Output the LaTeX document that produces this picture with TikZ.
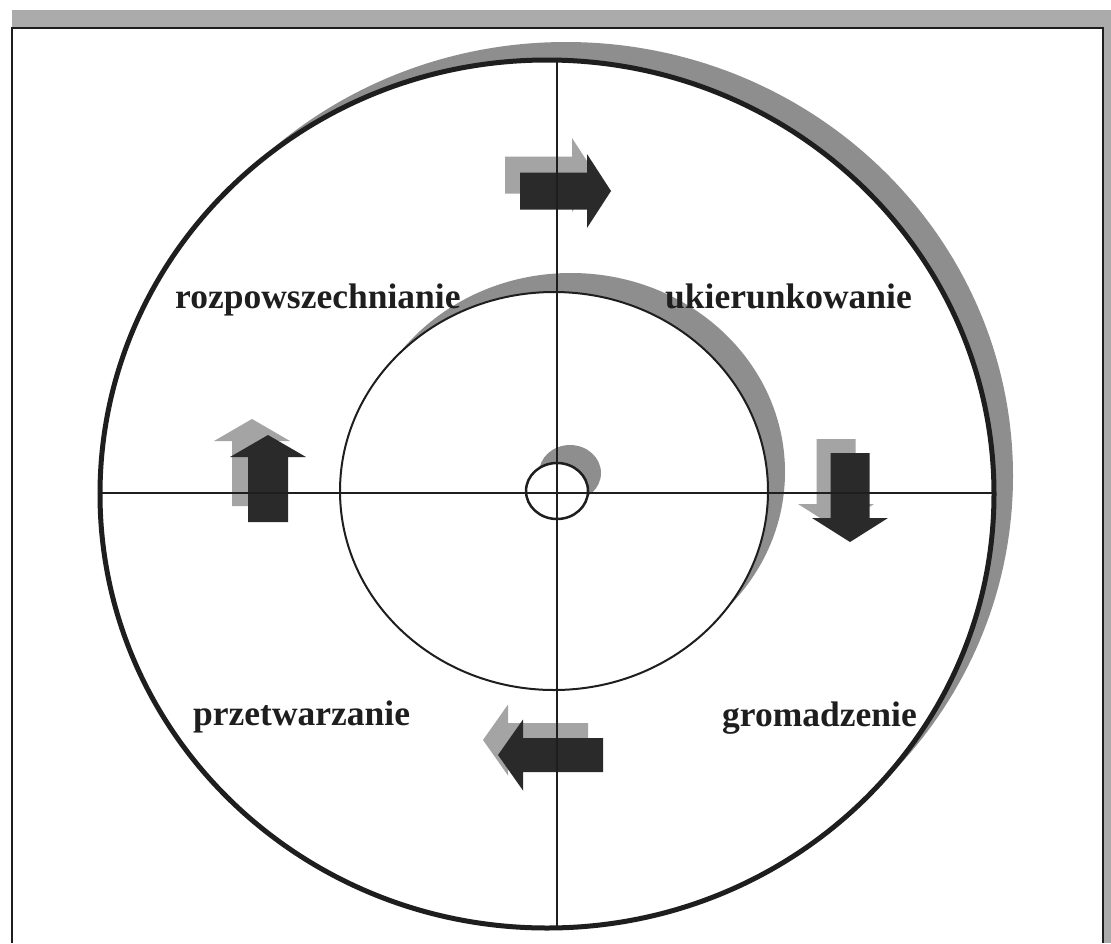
\documentclass[tikz,border=0pt]{standalone}
\usepackage{fontspec}
\setmainfont{Liberation Serif}
\usetikzlibrary{shapes.geometric}
\definecolor{ink}{HTML}{1E1E1E}
\definecolor{darkfill}{HTML}{2A2A2A}
\definecolor{shadowgray}{HTML}{8E8E8E}
\definecolor{arrowgray}{HTML}{A4A4A4}
\definecolor{bandgray}{HTML}{ABABAB}
\newcommand\fatarrow[7]{%
  \fill[#7,shift={#1},rotate=#2] (0,-#4) -- (#3,-#4) -- (#3,-#6) -- ({#3+#5},0) -- (#3,#6) -- (#3,#4) -- (0,#4) -- cycle;}
\tikzset{
  ring/.style={ellipse, draw=ink, fill=white, inner sep=0pt, outer sep=0pt},
  label/.style={font=\fontsize{35.5}{40}\selectfont\bfseries, text=ink, inner sep=0pt, anchor=base west},
  axis/.style={draw=ink, line width=2pt},
}
\begin{document}
\begin{tikzpicture}[x=1pt,y=-1pt]
\useasboundingbox (0,0) rectangle (1111,943);
\fill[white] (0,0) rectangle (1111,943);
% frame with its shadow band
\fill[bandgray] (12,10) rectangle (1111,28);
\fill[bandgray] (1103,10) rectangle (1111,943);
\draw[ink, line width=1.5pt] (12,943) -- (12,28) -- (1103,28) -- (1103,943);
% big circle
\fill[shadowgray] (566,476) ellipse [x radius=447pt, y radius=434pt];
\node[ring, line width=5pt, minimum width=894pt, minimum height=868pt] (big) at (547,494) {};
% inner circle
\fill[shadowgray] (571,472) ellipse [x radius=214pt, y radius=199pt];
\node[ring, line width=2pt, minimum width=428pt, minimum height=398pt] (inner) at (554,491) {};
% small circle
\fill[shadowgray] (570,473) ellipse [x radius=31pt, y radius=28pt];
\node[ring, line width=2.5pt, minimum width=62pt, minimum height=56pt] (small) at (557,491) {};
% arrows (gray shadow first, then dark)
\fatarrow{(505,175)}{0}{67}{18.5}{24}{37}{arrowgray}
\fatarrow{(520,191)}{0}{67}{18.5}{24}{37}{darkfill}
\fatarrow{(252,506)}{90}{65}{20}{22}{38}{arrowgray}
\fatarrow{(268,522)}{90}{65}{20}{22}{38}{darkfill}
\fatarrow{(836,439)}{-90}{65}{19.5}{24}{38}{arrowgray}
\fatarrow{(850,453)}{-90}{65}{19.5}{24}{38}{darkfill}
\fatarrow{(588,740)}{180}{80}{17}{25}{35.5}{arrowgray}
\fatarrow{(603,755)}{180}{80}{17}{25}{35.5}{darkfill}
% axes
\coordinate (vtop) at (557,62);
\coordinate (vbot) at (557,928);
\coordinate (hl) at (101,493);
\coordinate (hr) at (992,493);
\draw[axis] (hl) -- (hr);
\draw[axis] (vtop) -- (vbot);
% labels
\node[label] (rozp) at (175,308) {rozpowszechnianie};
\node[label] (ukier) at (665,308) {ukierunkowanie};
\node[label] (przet) at (193,725) {przetwarzanie};
\node[label] (groma) at (722,726) {gromadzenie};
\end{tikzpicture}
\end{document}
